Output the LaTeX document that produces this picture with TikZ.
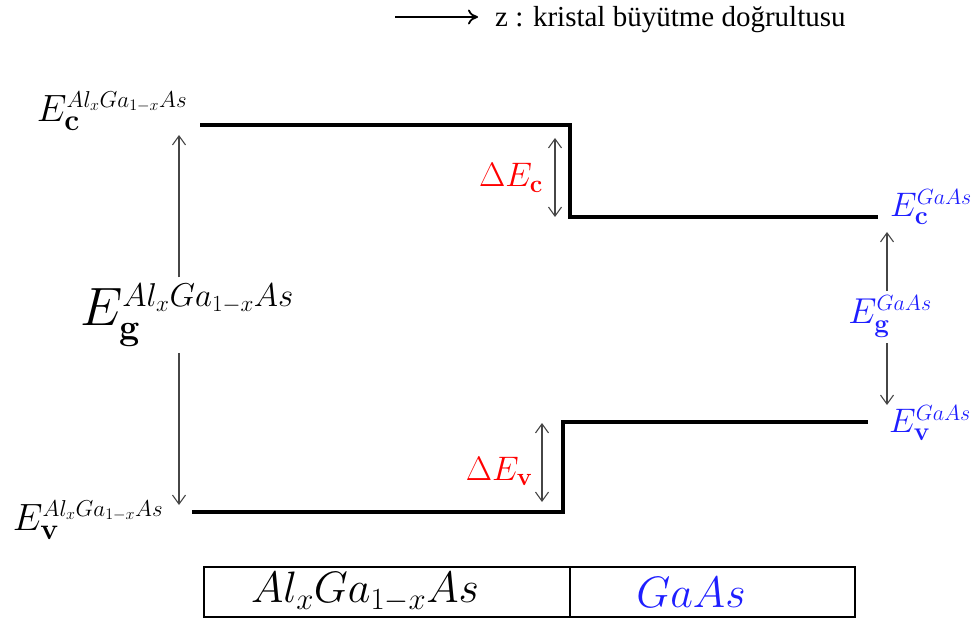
\documentclass[tikz,border=0pt]{standalone}
\usepackage{fix-cm}
\usepackage[no-math]{fontspec}
\newfontfamily\titlefont{Liberation Serif}
\usetikzlibrary{arrows.meta}
\newcommand\myfs[1]{\fontsize{#1}{#1}\selectfont}
% main size, subscript, subscript size, superscript, superscript size
\newcommand\EElab[5]{\myfs{#1}$E_{\mbox{\myfs{#3}\bfseries #2}}^{\mbox{\myfs{#5}$#4$}}$}
\newcommand\DElab[3]{\myfs{#1}$\Delta E_{\mbox{\myfs{#3}\bfseries #2}}$}
\definecolor{gblue}{RGB}{30,30,255}
\definecolor{dred}{RGB}{255,0,0}
\definecolor{arrgray}{RGB}{70,70,70}
\begin{document}
\begin{tikzpicture}[x=1pt,y=-1pt,
  level/.style={line width=4pt, line join=miter, line cap=butt},
  tipb/.tip={Straight Barb[length=9pt,width=13pt]},
  gap/.style={draw=arrgray, line width=1.1pt, tipb-tipb},
  halfgap/.style={draw=arrgray, line width=1.1pt, -tipb},
  lbl/.style={inner sep=0pt},
  boxline/.style={line width=1.2pt}
]
\useasboundingbox (0,0) rectangle (974,620);

% title
\coordinate (ta) at (395,17);
\coordinate (tb) at (478,17);
\node[lbl, anchor=base west] (title) at (495,27) {\titlefont\myfs{29}z : kristal büyütme doğrultusu};
\draw[line width=1.8pt, -{Computer Modern Rightarrow[length=10pt,width=15pt]}] (ta) -- (tb);

% conduction band
\coordinate (c1) at (200,125);
\coordinate (c2) at (570,125);
\coordinate (c3) at (570,217);
\coordinate (c4) at (878,217);
\draw[level] (c1) -- (c2) -- (c3) -- (c4);

% valence band
\coordinate (v1) at (192,512);
\coordinate (v2) at (563,512);
\coordinate (v3) at (563,422);
\coordinate (v4) at (868,422);
\draw[level] (v1) -- (v2) -- (v3) -- (v4);

% left labels
\node[lbl] (EcL) at (112,111) {\EElab{38}{c}{30}{Al_xGa_{1-x}As}{23}};
\node[lbl] (EvL) at (88,520) {\EElab{38}{v}{30}{Al_xGa_{1-x}As}{23}};
\node[lbl, inner ysep=6pt] (EgL) at (187,315) {\EElab{54}{g}{36}{Al_xGa_{1-x}As}{33}};
\coordinate (LT) at (179,135);
\coordinate (LB) at (179,505);
\draw[halfgap] (EgL.north -| LT) -- (LT);
\draw[halfgap] (EgL.south -| LB) -- (LB);

% delta Ec
\coordinate (dc1) at (555,138);
\coordinate (dc2) at (555,217);
\draw[gap] (dc1) -- (dc2);
\node[lbl, text=dred] (dEc) at (511,178) {\DElab{34}{c}{25}};

% delta Ev
\coordinate (dv1) at (542,423);
\coordinate (dv2) at (542,502);
\draw[gap] (dv1) -- (dv2);
\node[lbl, text=dred] (dEv) at (499,471) {\DElab{34}{v}{25}};

% right labels
\node[lbl, text=gblue] (EcR) at (931,207) {\EElab{34}{c}{26}{GaAs}{22}};
\node[lbl, text=gblue] (EvR) at (930,423) {\EElab{34}{v}{26}{GaAs}{22}};
\node[lbl, text=gblue, inner ysep=5pt] (EgR) at (890,317) {\EElab{36}{g}{26}{GaAs}{22}};
\coordinate (RT) at (887,232);
\coordinate (RB) at (887,405);
\draw[halfgap] (EgR.north -| RT) -- (RT);
\draw[halfgap] (EgR.south -| RB) -- (RB);

% material box
\coordinate (b1) at (204,567);
\coordinate (b2) at (855,617);
\coordinate (bt) at (570,567);
\coordinate (bb) at (570,617);
\draw[boxline] (b1) rectangle (b2);
\draw[boxline] (bt) -- (bb);
\node[lbl] (mL) at (365,592) {\myfs{44}$Al_xGa_{1-x}As$};
\node[lbl, text=gblue] (mR) at (691,592) {\myfs{44}$GaAs$};
\end{tikzpicture}
\end{document}
